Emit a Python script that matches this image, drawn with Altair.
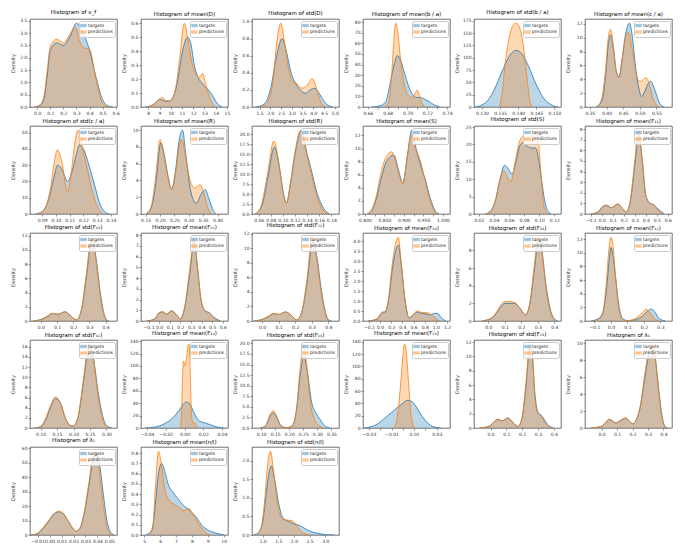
import altair as alt
import pandas as pd
import numpy as np

BLUE = "#1f77b4"
ORANGE = "#ff7f0e"

TITLES = [
    "Histogram of v_f", "Histogram of mean(D)", "Histogram of std(D)",
    "Histogram of mean(b / a)", "Histogram of std(b / a)", "Histogram of mean(c / a)",
    "Histogram of std(c / a)", "Histogram of mean(R)", "Histogram of std(R)",
    "Histogram of mean(S)", "Histogram of std(S)", "Histogram of mean(F₁₁)",
    "Histogram of std(F₁₁)", "Histogram of mean(F₂₂)", "Histogram of std(F₂₂)",
    "Histogram of mean(F₃₃)", "Histogram of std(F₃₃)", "Histogram of mean(F₁₂)",
    "Histogram of std(F₁₂)", "Histogram of mean(F₁₃)", "Histogram of std(F₁₃)",
    "Histogram of mean(F₂₃)", "Histogram of std(F₂₃)", "Histogram of λ₁",
    "Histogram of λ₂", "Histogram of mean(n/l)", "Histogram of std(n/l)",
]

XDOMAINS = [
    [-0.055, 0.61], [7.35, 15.1], [1.15, 5.2],
    [0.655, 0.743], [0.1278, 0.1518], [0.335, 0.597],
    [0.0811, 0.1444], [0.134, 0.436], [0.049, 0.1926],
    [0.795, 1.018], [0.0135, 0.1288], [-0.152, 0.639],
    [-0.067, 0.47], [-0.171, 0.649], [-0.061, 0.465],
    [-0.306, 1.253], [-0.086, 0.44], [-0.157, 0.37],
    [0.068, 0.332], [-0.0464, 0.0464], [0.0674, 0.377],
    [-0.0352, 0.0417], [-0.105, 0.446], [-0.107, 0.455],
    [-0.0164, 0.0564], [4.8, 10.27], [0.66, 3.44],
]

XTICKS = [
    [0.0, 0.1, 0.2, 0.3, 0.4, 0.5, 0.6],
    [8, 9, 10, 11, 12, 13, 14, 15],
    [1.5, 2.0, 2.5, 3.0, 3.5, 4.0, 4.5, 5.0],
    [0.66, 0.67, 0.68, 0.69, 0.70, 0.71, 0.72, 0.73, 0.74],
    [0.130, 0.135, 0.140, 0.145, 0.150],
    [0.35, 0.40, 0.45, 0.50, 0.55],
    [0.09, 0.10, 0.11, 0.12, 0.13, 0.14],
    [0.15, 0.20, 0.25, 0.30, 0.35, 0.40],
    [0.06, 0.08, 0.10, 0.12, 0.14, 0.16, 0.18],
    [0.800, 0.825, 0.850, 0.875, 0.900, 0.925, 0.950, 0.975, 1.000],
    [0.02, 0.04, 0.06, 0.08, 0.10, 0.12],
    [-0.1, 0.0, 0.1, 0.2, 0.3, 0.4, 0.5, 0.6],
    [0.0, 0.1, 0.2, 0.3, 0.4],
    [-0.1, 0.0, 0.1, 0.2, 0.3, 0.4, 0.5, 0.6],
    [0.0, 0.1, 0.2, 0.3, 0.4],
    [-0.2, 0.0, 0.2, 0.4, 0.6, 0.8, 1.0, 1.2],
    [0.0, 0.1, 0.2, 0.3, 0.4],
    [-0.1, 0.0, 0.1, 0.2, 0.3],
    [0.10, 0.15, 0.20, 0.25, 0.30],
    [-0.04, -0.02, 0.00, 0.02, 0.04],
    [0.10, 0.15, 0.20, 0.25, 0.30, 0.35],
    [-0.03, -0.02, -0.01, 0.00, 0.01, 0.02, 0.03],
    [0.0, 0.1, 0.2, 0.3, 0.4],
    [0.0, 0.1, 0.2, 0.3, 0.4],
    [-0.01, 0.00, 0.01, 0.02, 0.03, 0.04, 0.05],
    [5, 6, 7, 8, 9, 10],
    [1.0, 1.5, 2.0, 2.5, 3.0],
]

XFORMATS = [".1f", "d", ".1f", ".2f", ".3f", ".2f", ".2f", ".2f", ".2f", ".3f",
            ".2f", ".1f", ".1f", ".1f", ".1f", ".1f", ".1f", ".1f", ".2f", ".2f",
            ".2f", ".2f", ".1f", ".1f", ".2f", "d", ".1f"]

YSTEPS = [0.5, 0.1, 0.2, 10, 25, 2, 10, 2, 2.5, 2, 5, 1, 2, 1, 2, 0.5, 2, 2,
          2, 20, 2.5, 20, 2, 2, 10, 0.1, 0.5]
YFORMATS = [".1f", ".1f", ".1f", "d", "d", "d", "d", "d", ".1f", "d", "d", "d",
            "d", "d", "d", ".1f", "d", "d", "d", "d", ".1f", "d", "d", "d", "d",
            ".1f", ".1f"]

# ---- density curves: (x, density) ----
T01 = [(-0.02, 0), (0.02, 0.06), (0.05, 0.3), (0.075, 1.2), (0.1, 2.3), (0.15, 2.6), (0.2, 2.5),
       (0.25, 2.85), (0.3, 3.4), (0.35, 3.0), (0.4, 2.3), (0.45, 1.2), (0.5, 0.3), (0.55, 0.03), (0.58, 0)]
P01 = [(-0.02, 0), (0.02, 0.08), (0.05, 0.4), (0.075, 1.4), (0.1, 2.45), (0.15, 2.75), (0.2, 2.6),
       (0.25, 2.95), (0.29, 3.25), (0.33, 2.6), (0.36, 2.4), (0.4, 2.35), (0.45, 1.1), (0.5, 0.15),
       (0.54, 0.01), (0.56, 0)]
T02 = [(7.7, 0), (8.3, 0.01), (8.7, 0.035), (9.0, 0.056), (9.4, 0.045), (9.8, 0.04), (10.2, 0.07),
       (10.6, 0.18), (11.0, 0.38), (11.5, 0.5), (11.8, 0.45), (12.1, 0.3), (12.45, 0.21), (12.8, 0.17),
       (13.1, 0.14), (13.4, 0.12), (13.8, 0.07), (14.2, 0.02), (14.6, 0)]
P02 = [(7.9, 0), (8.5, 0.02), (8.9, 0.05), (9.25, 0.068), (9.6, 0.045), (10.0, 0.045), (10.4, 0.12),
       (10.8, 0.35), (11.2, 0.6), (11.5, 0.5), (11.8, 0.35), (12.2, 0.24), (12.5, 0.21), (12.85, 0.24),
       (13.1, 0.17), (13.5, 0.06), (14.0, 0)]
T03 = [(1.3, 0), (1.7, 0.03), (2.0, 0.2), (2.3, 0.6), (2.55, 0.8), (2.75, 0.65), (2.95, 0.42),
       (3.17, 0.28), (3.4, 0.2), (3.63, 0.16), (3.85, 0.2), (4.08, 0.22), (4.3, 0.15), (4.55, 0.05), (4.9, 0)]
P03 = [(1.5, 0), (1.8, 0.03), (2.1, 0.25), (2.3, 0.75), (2.49, 0.98), (2.65, 0.78), (2.85, 0.45),
       (3.05, 0.3), (3.25, 0.27), (3.48, 0.22), (3.7, 0.25), (3.96, 0.33), (4.15, 0.22), (4.35, 0.06), (4.55, 0)]
T04 = [(0.664, 0), (0.672, 1), (0.678, 5), (0.683, 25), (0.687, 42), (0.6897, 48.5), (0.693, 44),
       (0.697, 32), (0.701, 20), (0.705, 12), (0.709, 9), (0.713, 9), (0.717, 7.5), (0.722, 5),
       (0.727, 2), (0.733, 0)]
P04 = [(0.677, 0), (0.681, 5), (0.684, 30), (0.686, 60), (0.688, 79), (0.690, 72), (0.693, 45),
       (0.697, 20), (0.701, 11), (0.705, 9), (0.708, 13), (0.7095, 16), (0.712, 11), (0.715, 3), (0.718, 0)]
T05 = [(0.128, 0), (0.130, 4), (0.132, 17), (0.134, 45), (0.136, 80), (0.138, 108), (0.1395, 115),
       (0.141, 108), (0.143, 80), (0.145, 45), (0.147, 18), (0.149, 5), (0.151, 0)]
P05 = [(0.1348, 0), (0.1355, 25), (0.1365, 95), (0.1375, 140), (0.1385, 165), (0.1395, 170),
       (0.1405, 158), (0.1415, 120), (0.1425, 55), (0.1432, 12), (0.144, 0)]
T06 = [(0.368, 0), (0.385, 0.8), (0.398, 5), (0.405, 9), (0.4125, 10.4), (0.42, 8.5), (0.43, 5),
       (0.4375, 4.3), (0.447, 7), (0.457, 10.5), (0.469, 12.1), (0.478, 10), (0.488, 5.5), (0.498, 2.5),
       (0.506, 1.5), (0.515, 2.3), (0.527, 3.5), (0.533, 3.7), (0.545, 2.5), (0.558, 0.7), (0.573, 0)]
P06 = [(0.37, 0), (0.385, 1.2), (0.398, 6), (0.405, 10), (0.412, 11.2), (0.42, 9), (0.43, 5),
       (0.4375, 4.4), (0.447, 7), (0.457, 10), (0.465, 10.8), (0.475, 9), (0.486, 5.5), (0.497, 3.8),
       (0.505, 3.7), (0.513, 4.1), (0.52, 4.2), (0.53, 3), (0.54, 1.2), (0.552, 0.2), (0.56, 0)]
T07 = [(0.085, 0), (0.09, 1.5), (0.095, 10), (0.099, 24), (0.101, 30), (0.104, 28), (0.1085, 20),
       (0.112, 27), (0.115, 37), (0.117, 42.5), (0.12, 40), (0.124, 30), (0.128, 18), (0.132, 6),
       (0.136, 1), (0.139, 0)]
P07 = [(0.087, 0), (0.092, 3), (0.096, 16), (0.099, 33), (0.101, 39.5), (0.104, 33), (0.1085, 13.5),
       (0.111, 25), (0.114, 45), (0.116, 51.5), (0.119, 42), (0.123, 27), (0.127, 12), (0.131, 3), (0.134, 0)]
T08 = [(0.152, 0), (0.17, 0.8), (0.185, 3.5), (0.203, 8.5), (0.215, 7), (0.228, 4.5), (0.24, 3),
       (0.255, 5.5), (0.265, 8.5), (0.278, 10), (0.29, 7), (0.305, 3), (0.325, 1.3), (0.345, 2.5),
       (0.357, 2.9), (0.37, 1.8), (0.385, 0.4), (0.395, 0)]
P08 = [(0.152, 0), (0.17, 1), (0.185, 4.5), (0.2, 8.9), (0.213, 7), (0.228, 4.3), (0.24, 2.9),
       (0.255, 5), (0.265, 7.8), (0.276, 8.9), (0.29, 6.5), (0.305, 4), (0.32, 3.1), (0.34, 3.5),
       (0.352, 2.5), (0.365, 0.8), (0.38, 0)]
T09 = [(0.054, 0), (0.065, 2), (0.075, 9), (0.086, 16.8), (0.095, 11), (0.10, 6), (0.106, 2.8),
       (0.112, 7), (0.12, 15), (0.13, 21), (0.14, 15), (0.147, 11), (0.155, 6), (0.165, 2), (0.177, 0)]
P09 = [(0.056, 0), (0.065, 2.5), (0.075, 10.5), (0.085, 18.3), (0.095, 11), (0.10, 5.5), (0.106, 2.8),
       (0.112, 7.5), (0.12, 15.5), (0.129, 20.8), (0.14, 14.5), (0.147, 10), (0.155, 5), (0.165, 1.2), (0.175, 0)]
T10 = [(0.807, 0), (0.82, 0.8), (0.83, 2.5), (0.84, 5), (0.855, 8), (0.874, 9.0), (0.887, 6.5),
       (0.897, 4.7), (0.909, 9), (0.92, 12.8), (0.931, 10), (0.945, 7), (0.955, 5.2), (0.967, 2.5),
       (0.98, 0.5), (0.99, 0)]
P10 = [(0.805, 0), (0.82, 1), (0.83, 3), (0.84, 6), (0.855, 8.8), (0.869, 9.5), (0.885, 6.5),
       (0.897, 4.7), (0.909, 9), (0.918, 12.0), (0.93, 10), (0.945, 7.5), (0.955, 4.8), (0.967, 2),
       (0.98, 0.3), (0.987, 0)]
T11 = [(0.028, 0), (0.035, 0.8), (0.042, 4), (0.048, 10), (0.054, 14), (0.059, 13), (0.064, 11.5),
       (0.069, 15), (0.074, 19.5), (0.078, 20.5), (0.084, 19.5), (0.09, 19), (0.095, 19), (0.099, 16),
       (0.103, 10), (0.107, 4), (0.111, 1), (0.116, 0)]
P11 = [(0.03, 0), (0.037, 1), (0.043, 5), (0.048, 10), (0.053, 12.4), (0.058, 10.5), (0.0625, 9.3),
       (0.068, 15), (0.074, 21), (0.079, 22.3), (0.084, 20.8), (0.09, 22.5), (0.096, 24.1), (0.099, 21),
       (0.102, 12), (0.105, 4), (0.109, 0.5), (0.112, 0)]
T12 = [(-0.1, 0), (-0.03, 0.2), (0.0, 0.6), (0.043, 0.8), (0.09, 0.6), (0.146, 0.95), (0.19, 0.5),
       (0.224, 0.2), (0.26, 1.2), (0.3, 4.5), (0.335, 7.4), (0.37, 5), (0.4, 1.8), (0.44, 1.0),
       (0.47, 0.9), (0.51, 0.5), (0.57, 0)]
P12 = [(-0.09, 0), (-0.03, 0.25), (0.0, 0.65), (0.043, 0.85), (0.09, 0.6), (0.146, 0.95), (0.19, 0.5),
       (0.224, 0.2), (0.26, 1.3), (0.3, 5), (0.333, 7.9), (0.37, 4.8), (0.4, 1.8), (0.44, 1.0),
       (0.47, 0.85), (0.51, 0.35), (0.56, 0)]
T13 = [(-0.05, 0), (0.0, 0.2), (0.04, 0.6), (0.072, 1.05), (0.105, 0.95), (0.149, 1.3), (0.18, 0.8),
       (0.22, 0.15), (0.25, 1.5), (0.28, 6), (0.31, 11), (0.322, 11.3), (0.34, 9), (0.37, 3.5),
       (0.39, 1), (0.41, 0.1), (0.42, 0)]
P13 = [(-0.05, 0), (0.0, 0.2), (0.04, 0.7), (0.072, 1.1), (0.105, 0.95), (0.149, 1.3), (0.18, 0.8),
       (0.22, 0.15), (0.25, 1.6), (0.28, 6.5), (0.31, 11.6), (0.32, 11.8), (0.34, 8.5), (0.37, 3),
       (0.39, 0.7), (0.405, 0)]
T14 = [(-0.12, 0), (-0.04, 0.2), (0.0, 0.75), (0.03, 0.85), (0.07, 0.65), (0.12, 0.95), (0.16, 0.6),
       (0.2, 0.2), (0.24, 1.2), (0.29, 4.5), (0.33, 7.5), (0.36, 5.2), (0.4, 1.7), (0.44, 0.9),
       (0.47, 0.8), (0.51, 0.4), (0.58, 0)]
P14 = [(-0.11, 0), (-0.04, 0.2), (0.0, 0.8), (0.03, 0.85), (0.07, 0.65), (0.12, 0.95), (0.16, 0.6),
       (0.2, 0.2), (0.24, 1.3), (0.29, 5), (0.33, 7.8), (0.36, 5), (0.4, 1.7), (0.44, 0.9),
       (0.47, 0.75), (0.51, 0.3), (0.56, 0)]
T15 = [(-0.05, 0), (0.0, 0.2), (0.04, 0.6), (0.07, 1.0), (0.1, 0.9), (0.143, 1.25), (0.175, 0.8),
       (0.21, 0.15), (0.24, 1.2), (0.27, 5), (0.3, 10.5), (0.312, 11), (0.33, 9), (0.36, 4),
       (0.38, 1.5), (0.4, 0.2), (0.42, 0)]
P15 = [(-0.05, 0), (0.0, 0.2), (0.04, 0.7), (0.07, 1.05), (0.1, 0.9), (0.143, 1.25), (0.175, 0.8),
       (0.21, 0.15), (0.24, 1.3), (0.27, 5.5), (0.3, 11.2), (0.31, 11.5), (0.33, 8.5), (0.36, 3.5),
       (0.38, 1.1), (0.4, 0.1), (0.41, 0)]
T16 = [(-0.22, 0), (-0.05, 0.1), (0.0, 0.3), (0.04, 0.42), (0.09, 0.45), (0.15, 1.0), (0.22, 2.6),
       (0.3, 3.7), (0.33, 3.8), (0.38, 2.8), (0.45, 1.0), (0.52, 0.15), (0.58, 0.25), (0.67, 0.45),
       (0.75, 0.38), (0.83, 0.35), (0.9, 0.3), (0.97, 0.38), (1.03, 0.38), (1.1, 0.15), (1.18, 0)]
P16 = [(-0.2, 0), (-0.05, 0.12), (0.0, 0.32), (0.04, 0.45), (0.09, 0.47), (0.15, 1.1), (0.22, 2.9),
       (0.3, 4.1), (0.325, 4.2), (0.38, 2.9), (0.45, 1.0), (0.52, 0.15), (0.58, 0.3), (0.67, 0.5),
       (0.75, 0.42), (0.83, 0.42), (0.9, 0.35), (0.97, 0.2), (1.03, 0.05), (1.08, 0)]
T17 = [(-0.04, 0), (0.02, 0.3), (0.05, 0.9), (0.08, 1.7), (0.1, 2.0), (0.13, 2.0), (0.16, 2.0),
       (0.19, 1.5), (0.225, 0.7), (0.25, 1.8), (0.28, 6), (0.305, 9.3), (0.32, 8.5), (0.35, 4),
       (0.38, 1.0), (0.41, 0.1), (0.42, 0)]
P17 = [(-0.04, 0), (0.02, 0.35), (0.05, 1.0), (0.08, 1.9), (0.1, 2.2), (0.13, 2.2), (0.16, 2.1),
       (0.19, 1.5), (0.225, 0.7), (0.25, 1.9), (0.28, 6.5), (0.3, 9.5), (0.32, 8.5), (0.35, 3.5),
       (0.38, 0.8), (0.405, 0)]
T18 = [(-0.12, 0), (-0.06, 0.6), (-0.03, 4), (-0.01, 9), (0.0, 10.8), (0.01, 10), (0.03, 6),
       (0.05, 2), (0.07, 0.4), (0.1, 0.05), (0.15, 0.2), (0.19, 0.7), (0.22, 1.4), (0.244, 1.75),
       (0.27, 1.2), (0.29, 0.4), (0.33, 0)]
P18 = [(-0.1, 0), (-0.05, 1.2), (-0.03, 5), (-0.01, 11), (0.0, 12.3), (0.01, 11.5), (0.03, 6),
       (0.05, 1.5), (0.07, 0.2), (0.1, 0.05), (0.15, 0.4), (0.19, 1.2), (0.213, 1.7), (0.235, 1.3),
       (0.26, 0.4), (0.29, 0)]
T19 = [(0.08, 0), (0.1, 0.2), (0.115, 1.5), (0.13, 4), (0.145, 5.8), (0.16, 5), (0.175, 2),
       (0.19, 0.5), (0.2, 0.4), (0.215, 2.5), (0.23, 9), (0.245, 15.5), (0.25, 16.2), (0.26, 14),
       (0.275, 7), (0.29, 2), (0.3, 0.5), (0.318, 0)]
P19 = [(0.082, 0), (0.1, 0.3), (0.115, 1.8), (0.13, 4.4), (0.145, 6.1), (0.16, 5), (0.175, 2),
       (0.19, 0.5), (0.2, 0.4), (0.215, 2.6), (0.23, 9.5), (0.245, 16.3), (0.25, 16.5), (0.26, 13.5),
       (0.275, 6), (0.29, 1.3), (0.3, 0.2), (0.31, 0)]
T20 = [(-0.042, 0), (-0.03, 2), (-0.02, 8), (-0.012, 17), (-0.006, 28), (-0.002, 37), (0.002, 42),
       (0.006, 38), (0.01, 25), (0.014, 14), (0.018, 10), (0.022, 8), (0.028, 5), (0.034, 2), (0.042, 0)]
P20 = [(-0.0045, 0), (-0.003, 30), (-0.002, 85), (-0.001, 108), (0.0005, 100), (0.002, 110),
       (0.0035, 130), (0.0048, 135), (0.006, 95), (0.0075, 20), (0.009, 8), (0.011, 8), (0.013, 3), (0.015, 0)]
T21 = [(0.095, 0), (0.115, 0.5), (0.13, 2.5), (0.143, 3.6), (0.155, 2.5), (0.17, 0.6), (0.19, 0.1),
       (0.21, 0.5), (0.225, 4), (0.24, 13), (0.252, 17), (0.265, 13), (0.28, 6), (0.295, 3.5),
       (0.31, 2), (0.325, 0.6), (0.345, 0)]
P21 = [(0.1, 0), (0.117, 0.6), (0.13, 3), (0.143, 4.1), (0.155, 2.8), (0.17, 0.6), (0.19, 0.05),
       (0.21, 0.4), (0.225, 4), (0.24, 15), (0.25, 19.8), (0.262, 15), (0.275, 6), (0.29, 2),
       (0.305, 0.6), (0.32, 0)]
T22 = [(-0.034, 0), (-0.028, 2), (-0.022, 7), (-0.016, 16), (-0.01, 25), (-0.005, 33), (0.0, 40),
       (0.004, 45), (0.008, 43), (0.012, 34), (0.016, 22), (0.02, 12), (0.024, 5), (0.028, 1.5), (0.034, 0)]
P22 = [(-0.008, 0), (-0.006, 8), (-0.004, 30), (-0.002, 70), (0.0, 115), (0.0015, 136), (0.003, 125),
       (0.005, 75), (0.007, 25), (0.009, 5), (0.011, 0)]
T23 = [(-0.07, 0), (-0.01, 0.2), (0.02, 0.8), (0.046, 1.2), (0.073, 1.0), (0.11, 1.4), (0.14, 0.8),
       (0.174, 0.2), (0.2, 1.5), (0.225, 6), (0.245, 11), (0.253, 11.5), (0.265, 10), (0.28, 5),
       (0.3, 2.2), (0.32, 1.8), (0.34, 1.2), (0.36, 0.5), (0.4, 0)]
P23 = [(-0.07, 0), (-0.01, 0.25), (0.02, 0.85), (0.046, 1.25), (0.073, 1.0), (0.11, 1.4), (0.14, 0.8),
       (0.174, 0.2), (0.2, 1.6), (0.225, 6.5), (0.245, 11.3), (0.252, 11.7), (0.265, 10), (0.28, 4.5),
       (0.3, 2), (0.32, 1.6), (0.34, 0.9), (0.36, 0.3), (0.39, 0)]
T24 = [(-0.07, 0), (0.0, 0.2), (0.03, 0.7), (0.05, 1.0), (0.093, 0.6), (0.125, 0.9), (0.157, 1.15),
       (0.18, 0.8), (0.2, 0.5), (0.225, 1.0), (0.25, 2.5), (0.28, 6), (0.31, 9), (0.327, 9.6),
       (0.345, 8.5), (0.37, 4.5), (0.39, 1.5), (0.41, 0.2), (0.43, 0)]
P24 = [(-0.07, 0), (0.0, 0.2), (0.03, 0.75), (0.05, 1.05), (0.093, 0.6), (0.125, 0.95), (0.157, 1.2),
       (0.18, 0.8), (0.2, 0.5), (0.225, 1.0), (0.25, 2.6), (0.28, 6.5), (0.31, 9.5), (0.325, 9.9),
       (0.345, 8.5), (0.37, 4), (0.39, 1.2), (0.41, 0.1), (0.42, 0)]
T25 = [(-0.016, 0), (-0.01, 1), (-0.005, 5), (0.0, 10.5), (0.004, 14.5), (0.008, 16), (0.012, 14),
       (0.016, 9), (0.02, 4), (0.022, 2.5), (0.025, 4), (0.029, 15), (0.033, 35), (0.037, 55),
       (0.039, 57), (0.042, 48), (0.045, 28), (0.048, 10), (0.051, 2), (0.054, 0)]
P25 = [(-0.015, 0), (-0.01, 1.2), (-0.005, 5.5), (0.0, 11), (0.004, 15.2), (0.0075, 16.5), (0.012, 14.5),
       (0.016, 9), (0.02, 4), (0.022, 2.5), (0.025, 4.2), (0.029, 16), (0.033, 37), (0.0365, 56),
       (0.038, 58), (0.041, 48), (0.044, 27), (0.047, 9), (0.05, 1.5), (0.052, 0)]
T26 = [(5.1, 0), (5.5, 0.05), (5.7, 0.3), (5.9, 0.6), (6.1, 0.7), (6.3, 0.62), (6.5, 0.5), (6.8, 0.42),
       (7.1, 0.36), (7.4, 0.3), (7.7, 0.26), (8.0, 0.22), (8.3, 0.17), (8.6, 0.1), (9.0, 0.05),
       (9.5, 0.02), (10.0, 0)]
P26 = [(5.3, 0), (5.55, 0.1), (5.7, 0.45), (5.9, 0.82), (6.05, 0.72), (6.3, 0.45), (6.6, 0.33),
       (6.9, 0.3), (7.2, 0.27), (7.5, 0.24), (7.8, 0.26), (8.0, 0.22), (8.3, 0.14), (8.6, 0.07),
       (9.0, 0.01), (9.2, 0)]
T27 = [(0.7, 0), (0.85, 0.05), (1.0, 0.35), (1.1, 1.0), (1.2, 1.65), (1.28, 1.85), (1.4, 1.4),
       (1.5, 0.9), (1.6, 0.55), (1.7, 0.42), (1.85, 0.36), (2.0, 0.3), (2.2, 0.25), (2.4, 0.15),
       (2.6, 0.08), (2.8, 0.04), (3.0, 0.01), (3.3, 0)]
P27 = [(0.8, 0), (0.95, 0.2), (1.05, 0.8), (1.15, 1.8), (1.25, 2.25), (1.35, 1.7), (1.45, 1.0),
       (1.55, 0.55), (1.65, 0.42), (1.8, 0.4), (1.95, 0.38), (2.05, 0.3), (2.2, 0.12), (2.4, 0.02), (2.5, 0)]

TARGETS = [T01, T02, T03, T04, T05, T06, T07, T08, T09, T10, T11, T12, T13, T14,
           T15, T16, T17, T18, T19, T20, T21, T22, T23, T24, T25, T26, T27]
PREDICTIONS = [P01, P02, P03, P04, P05, P06, P07, P08, P09, P10, P11, P12, P13, P14,
               P15, P16, P17, P18, P19, P20, P21, P22, P23, P24, P25, P26, P27]

W, H = 87, 88


def panel(i):
    rows = [{"x": x, "y": y, "series": "targets", "k": 0} for x, y in TARGETS[i]]
    rows += [{"x": x, "y": y, "series": "predictions", "k": 1} for x, y in PREDICTIONS[i]]
    df = pd.DataFrame(rows)
    ymax = float(df["y"].max()) * 1.05
    step = YSTEPS[i]
    yticks = [round(v, 6) for v in np.arange(0, ymax + 1e-9, step)]
    xs = alt.X("x:Q", scale=alt.Scale(domain=XDOMAINS[i], nice=False, zero=False),
               axis=alt.Axis(values=XTICKS[i], format=XFORMATS[i], title=None))
    ys = alt.Y("y:Q", stack=None, scale=alt.Scale(domain=[0, ymax], nice=False),
               axis=alt.Axis(values=yticks, format=YFORMATS[i], title="Density"))
    scale = alt.Scale(domain=["targets", "predictions"], range=[BLUE, ORANGE])
    area = alt.Chart(df).mark_area(interpolate="monotone", fillOpacity=0.3, clip=True).encode(
        x=xs, y=ys,
        color=alt.Color("series:N", scale=scale,
                        legend=alt.Legend(title=None, orient="top-right", symbolOpacity=0.45)),
        order=alt.Order("k:Q"),
    )
    line = alt.Chart(df).mark_line(interpolate="monotone", strokeWidth=0.8, clip=True).encode(
        x=xs, y=ys,
        color=alt.Color("series:N", scale=scale, legend=None),
        order=alt.Order("x:Q"),
    )
    return alt.layer(area, line).properties(width=W, height=H, title=TITLES[i])


panels = [panel(i) for i in range(27)]

chart = alt.concat(*panels, columns=6, spacing={"row": 19, "column": 24}, bounds="flush").resolve_scale(
    color="independent", x="independent", y="independent"
).resolve_legend(color="independent").properties(
    padding={"left": 1, "top": 1, "right": 2, "bottom": 1}
).configure(font="DejaVu Sans").configure_view(
    stroke="#333333", strokeWidth=0.7
).configure_axis(
    grid=False, domain=False, labelFontSize=4.5, titleFontSize=5, titleFontWeight="normal",
    tickSize=2, tickWidth=0.5, tickColor="#333333", labelColor="#333333", titleColor="#333333",
    labelPadding=1,
).configure_axisY(minExtent=14, maxExtent=14, titlePadding=1).configure_axisX(
    minExtent=8, maxExtent=8
).configure_title(
    fontSize=5.5, fontWeight="normal", offset=2, anchor="middle", color="#000000"
).configure_legend(
    labelFontSize=4.5, symbolSize=18, symbolType="M-1.4,-0.6H1.4V0.6H-1.4Z", rowPadding=0.5,
    padding=2, offset=2, strokeColor="#cccccc", fillColor="rgba(255,255,255,0.8)",
    cornerRadius=1.5, labelOffset=2, symbolStrokeWidth=0.6, labelColor="#222222",
)

chart.save("out.html", embed_options={"renderer": "svg", "actions": False})
